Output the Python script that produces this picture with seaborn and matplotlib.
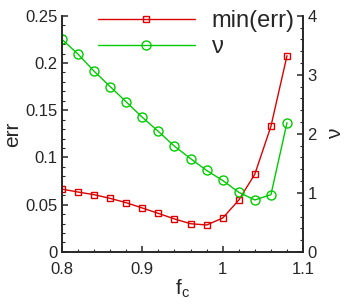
import matplotlib
matplotlib.use("Agg")
import matplotlib.pyplot as plt
import seaborn as sns
import pandas as pd
from matplotlib.ticker import MultipleLocator

# values
fc = [0.80, 0.82, 0.84, 0.86, 0.88, 0.90, 0.92, 0.94, 0.96, 0.98,
      1.00, 1.02, 1.04, 1.06, 1.08]
min_err = [0.0665, 0.0634, 0.0606, 0.0567, 0.0521, 0.0465, 0.0408, 0.0349,
           0.0299, 0.0285, 0.0359, 0.0549, 0.0824, 0.133, 0.2077]
nu = [3.60, 3.35, 3.06, 2.80, 2.54, 2.28, 2.04, 1.79, 1.58, 1.38,
      1.21, 1.01, 0.88, 0.97, 2.19]

df = pd.DataFrame({"fc": fc, "err": min_err, "nu": nu})

sns.set_style("ticks")
plt.rcParams['font.family'] = ['Liberation Sans', 'DejaVu Sans']

red = "#dd0000"
green = "#00cc00"

fig = plt.figure(figsize=(3.46, 3.08), dpi=100)
ax = fig.add_axes([0.179, 0.182, 0.697, 0.767])
ax2 = ax.twinx()

sns.lineplot(data=df, x="fc", y="err", ax=ax, color=red, lw=1.0,
             marker="s", markersize=5, markerfacecolor="none",
             markeredgecolor=red, markeredgewidth=1.0, label="min(err)",
             legend=False)
sns.lineplot(data=df, x="fc", y="nu", ax=ax2, color=green, lw=1.0,
             marker="o", markersize=6.5, markerfacecolor="none",
             markeredgecolor=green, markeredgewidth=1.0, label="\u03bd",
             legend=False)

ax.set_xlim(0.8, 1.1)
ax.set_ylim(0, 0.25)
ax2.set_ylim(0, 4)

ax.xaxis.set_major_locator(MultipleLocator(0.1))
ax.xaxis.set_minor_locator(MultipleLocator(0.02))
ax.yaxis.set_major_locator(MultipleLocator(0.05))
ax.yaxis.set_minor_locator(MultipleLocator(0.01))
ax2.yaxis.set_major_locator(MultipleLocator(1))
ax2.yaxis.set_minor_locator(MultipleLocator(0.2))
ax.set_xticks([0.8, 0.9, 1.0, 1.1], ["0.8", "0.9", "1", "1.1"])
ax.set_yticks([0, 0.05, 0.1, 0.15, 0.2, 0.25],
              ["0", "0.05", "0.1", "0.15", "0.2", "0.25"])

for a in (ax, ax2):
    a.tick_params(which="major", direction="in", length=4.5, width=1.1,
                  labelsize=12, pad=3)
    a.tick_params(which="minor", direction="in", length=2.5, width=0.8)
    for s in a.spines.values():
        s.set_linewidth(1.2)
    a.spines["top"].set_visible(False)
ax.tick_params(axis="x", pad=7.5)

ax.set_xlabel("f$_\\mathregular{c}$", fontsize=15, labelpad=0)
ax.set_ylabel("err", fontsize=15, labelpad=2)
ax2.set_ylabel("\u03bd", fontsize=15, labelpad=7, rotation=90)

h1, l1 = ax.get_legend_handles_labels()
h2, l2 = ax2.get_legend_handles_labels()
fig.legend(h1 + h2, l1 + l2, loc="upper left", bbox_to_anchor=(0.256, 0.997),
           frameon=False, fontsize=17, handlelength=4.1, handletextpad=0.72,
           labelspacing=0.15, borderpad=0.4, borderaxespad=0,
           markerfirst=True)

fig.savefig("out.png", dpi=100)
